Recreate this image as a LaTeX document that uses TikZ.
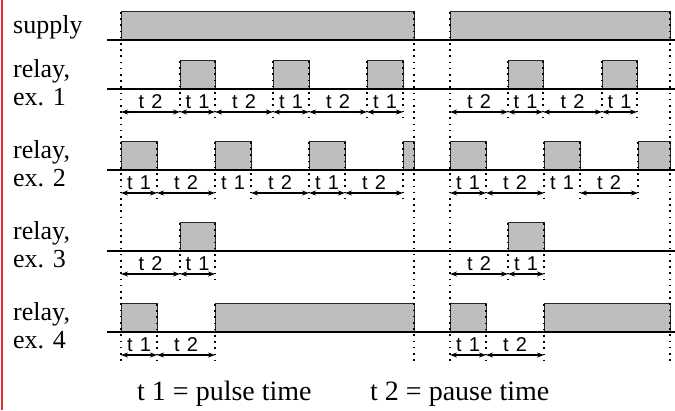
\documentclass[tikz,border=0pt]{standalone}
\usepackage{fontspec}
\setmainfont{Liberation Serif}
\newfontfamily\arialf{Liberation Sans}
\usetikzlibrary{arrows.meta}
\definecolor{pulsegray}{RGB}{190,190,192}
\definecolor{borderred}{RGB}{232,40,52}
\tikzset{
  pulse/.style={fill=pulsegray, draw=black!85, line width=0.9bp},
  baseln/.style={draw=black, line width=1.4bp},
  dotv/.style={draw=black, line width=1.4bp, dash pattern=on 1.6bp off 4.6bp},
  dimarrow/.style={{Stealth[length=7bp,width=5bp]}-{Stealth[length=7bp,width=5bp]}, line width=1.1bp},
  tlab/.style={font=\arialf\fontsize{20bp}{22bp}\selectfont, anchor=base, inner sep=0pt},
  rowlab/.style={font=\fontsize{26bp}{29bp}\selectfont, anchor=base west, inner sep=0pt},
  legend/.style={font=\fontsize{28bp}{30bp}\selectfont, anchor=base west, inner sep=0pt}
}
\newcommand{\tl}[1]{t\hspace{0.36em}#1}
\begin{document}
\begin{tikzpicture}[x=1bp,y=-1bp]
\useasboundingbox (0,0) rectangle (675,410);
\draw[borderred, line width=2.2bp] (2,0) -- (2,410);

% row labels
\node[rowlab] (lsup) at (13,33) {supply};
\node[rowlab] (lr1) at (13,77) {relay,};
\node[rowlab] (le1) at (13,105) {ex. 1};
\node[rowlab] (lr2) at (13,158) {relay,};
\node[rowlab] (le2) at (13,186) {ex. 2};
\node[rowlab] (lr3) at (13,239) {relay,};
\node[rowlab] (le3) at (13,267) {ex. 3};
\node[rowlab] (lr4) at (13,320) {relay,};
\node[rowlab] (le4) at (13,348) {ex. 4};

% pulses
\foreach \a/\b in {121/414, 450/670} \filldraw[pulse] (\a,40) -- (\a,11) -- (\b,11) -- (\b,40);
\foreach \a/\b in {180/215, 273/309, 367/403, 508/543, 602/637} \filldraw[pulse] (\a,89) -- (\a,60) -- (\b,60) -- (\b,89);
\foreach \a/\b in {121/157, 215/251, 309/345, 403/414, 450/486, 544/580, 638/670} \filldraw[pulse] (\a,170) -- (\a,141) -- (\b,141) -- (\b,170);
\foreach \a/\b in {180/215, 508/544} \filldraw[pulse] (\a,251) -- (\a,222) -- (\b,222) -- (\b,251);
\foreach \a/\b in {121/157, 215/414, 450/486, 544/670} \filldraw[pulse] (\a,332) -- (\a,303) -- (\b,303) -- (\b,332);

% base lines
\foreach \y in {40, 89, 170, 251, 332} \draw[baseln] (107,\y) -- (675,\y);

% long dotted lines
\foreach \x in {121, 414, 450, 670} \draw[dotv] (\x,12) -- (\x,362);

% short dotted ticks
\foreach \x in {180,215,273,309,367,403,508,543,602,637} \draw[dotv] (\x,61) -- (\x,119);
\foreach \x in {157,215,251,309,345,403,486,544,580,638} \draw[dotv] (\x,142) -- (\x,200);
\foreach \x in {180,215,508,544} \draw[dotv] (\x,223) -- (\x,281);
\foreach \x in {157,215,486,544} \draw[dotv] (\x,304) -- (\x,362);

% dimension arrows and labels
\foreach \a/\b/\t in {121/180/2, 180/215/1, 215/273/2, 273/309/1, 309/367/2, 367/403/1, 450/508/2, 508/543/1, 543/602/2, 602/637/1} {
  \draw[dimarrow] (\a,112) -- (\b,112);
  \node[tlab] (ta\a) at ({(\a+\b)/2},108) {\tl{\t}};
}
\foreach \a/\b/\t in {121/157/1, 157/215/2, 251/309/2, 309/345/1, 345/403/2, 450/486/1, 486/544/2, 580/638/2} {
  \draw[dimarrow] (\a,193) -- (\b,193);
  \node[tlab] (tb\a) at ({(\a+\b)/2},189) {\tl{\t}};
}
\node[tlab] (tb215) at (233,189) {\tl{1}};
\node[tlab] (tb544) at (562,189) {\tl{1}};
\foreach \a/\b/\t in {121/180/2, 180/215/1, 450/508/2, 508/544/1} {
  \draw[dimarrow] (\a,274) -- (\b,274);
  \node[tlab] (tc\a) at ({(\a+\b)/2},270) {\tl{\t}};
}
\foreach \a/\b/\t in {121/157/1, 157/215/2, 450/486/1, 486/544/2} {
  \draw[dimarrow] (\a,355) -- (\b,355);
  \node[tlab] (td\a) at ({(\a+\b)/2},351) {\tl{\t}};
}

% legend
\node[legend] (leg1) at (137,400) {t 1 = pulse time};
\node[legend] (leg2) at (370,400) {t 2 = pause time};
\end{tikzpicture}
\end{document}
